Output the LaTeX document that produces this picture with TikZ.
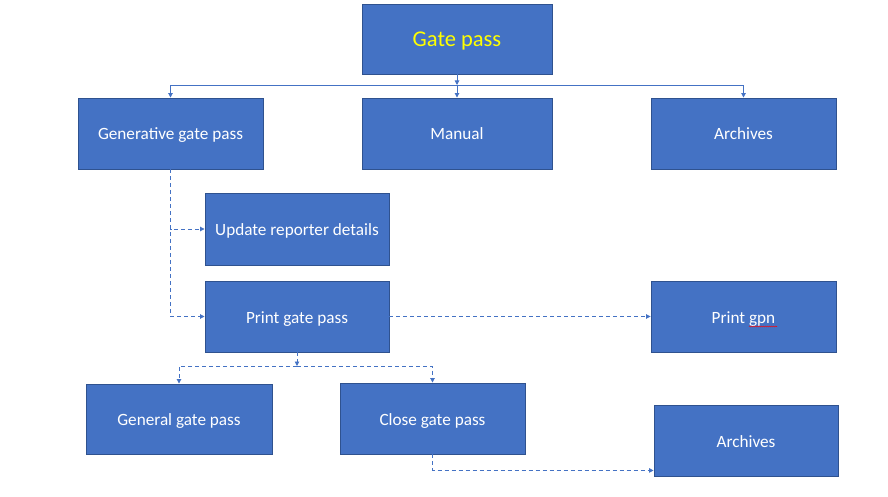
\documentclass[tikz,border=0pt]{standalone}
\usepackage{fontspec}
\setmainfont{Carlito}
\usetikzlibrary{arrows.meta,decorations.pathmorphing}
\definecolor{cajaazul}{HTML}{4472C4}
\definecolor{bordeazul}{HTML}{2F528F}
\definecolor{amarillo}{HTML}{FFFF00}
\tikzset{
  caja/.style={draw=bordeazul, fill=cajaazul, line width=0.9pt, inner sep=0pt,
    minimum width=185pt, minimum height=71pt, text=white,
    text height=14pt, text depth=1pt,
    font=\fontsize{17.2}{20}\selectfont},
  linea/.style={draw=cajaazul, line width=0.9pt, -{Triangle[length=4.5pt,width=4.5pt]}},
  rayas/.style={linea, dash pattern=on 4pt off 3pt}
}
\begin{document}
\begin{tikzpicture}[x=1pt, y=-1pt]
    \useasboundingbox (0,0) rectangle (888,497);

    % Cajas
    \node[caja, minimum width=190pt, minimum height=70pt, text=amarillo,
      text height=18pt, text depth=2pt,
      font=\fontsize{22.5}{26}\selectfont] (gate) at (457,39) {Gate pass};
    \node[caja] (gen) at (170.5,133.5) {Generative gate pass};
    \node[caja, minimum width=190pt] (manual) at (457,133.5) {Manual};
    \node[caja] (arch1) at (743.5,133.5) {Archives};
    \node[caja, minimum width=184pt, minimum height=72pt] (upd) at (297,229) {Update reporter details};
    \node[caja, minimum width=184pt] (print) at (297,316.5) {Print gate pass};
    \node[caja] (gpn) at (743.5,316.5) {Print gpn};
    \node[caja, minimum width=186pt, minimum height=70pt] (general) at (179,419) {General gate pass};
    \node[caja] (close) at (432.5,418.5) {Close gate pass};
    \node[caja, minimum width=184pt] (arch2) at (746,440.5) {Archives};

    % Marca roja bajo gpn
    \draw[red, line width=0.5pt, decorate,
      decoration={snake, amplitude=0.5pt, segment length=2pt}] (749,326.5) -- (777,326.5);

    % Conectores continuos
    \coordinate (bus1) at (457,85);
    \draw[linea] (gate.south) -- (bus1);
    \draw[linea] (bus1) -| (gen.north);
    \draw[linea] (bus1) -- (manual.north);
    \draw[linea] (bus1) -| (arch1.north);

    % Conectores a rayas
    \draw[rayas] (gen.south) |- (upd.west);
    \draw[rayas] (gen.south) |- (print.west);
    \draw[rayas] (print.east) -- (gpn.west);
    \coordinate (bus2) at (297,366);
    \draw[rayas] (print.south) -- (bus2);
    \draw[rayas] (bus2) -| (general.north);
    \draw[rayas] (bus2) -| (close.north);
    \draw[rayas] (close.south) |- ([yshift=6pt]arch2.south west);
\end{tikzpicture}
\end{document}
